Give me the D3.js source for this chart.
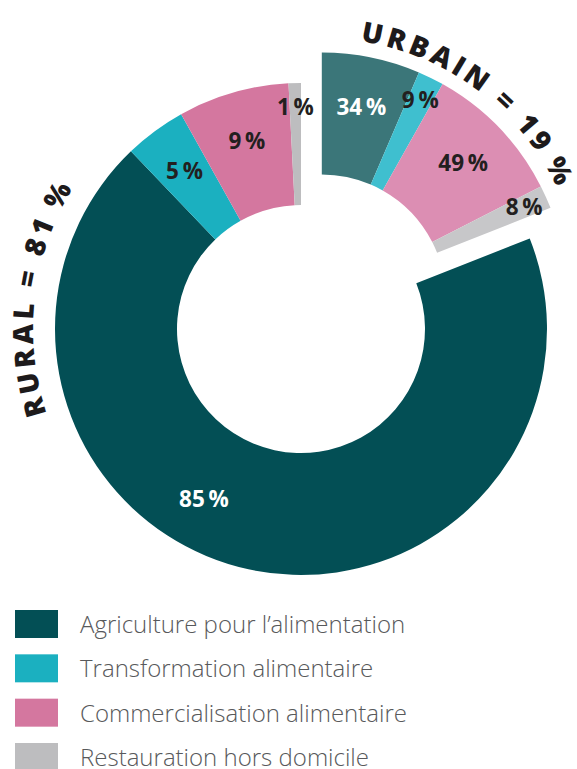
<!DOCTYPE html>
<html>
<head>
<meta charset="utf-8">
<script src="https://cdn.jsdelivr.net/npm/d3@7"></script>
<style>
  body { margin: 0; background: #fff; }
  svg { display: block; }
</style>
</head>
<body>
<svg id="chart" width="577" height="769"></svg>
<script>
// data
const categories = ['Agriculture pour l’alimentation', 'Transformation alimentaire', 'Commercialisation alimentaire', 'Restauration hors domicile'];
const groups = ['URBAIN', 'RURAL'];
const groupShares = [19, 81];
const urbanValues = [34, 9, 49, 8];
const ruralValues = [85, 5, 9, 1];

const ruralColors = ['#034f55', '#1bb0c0', '#d4779f', '#bdbdbf'];
const urbanColors = ['#3b7679', '#3fbfcf', '#dc8eb3', '#c7c7c9'];

const svg = d3.select('#chart');
const cx = 301, cy = 329;
const inner = 124, outer = 246;
const explode = 37;

const arc = d3.arc().innerRadius(inner).outerRadius(outer);
const groupPie = d3.pie().sort(null).value(d => d);
const groupArcs = groupPie(groupShares);

const root = svg.append('g').attr('transform', `translate(${cx},${cy})`);

groupArcs.forEach((g, gi) => {
  const values = gi === 0 ? urbanValues : ruralValues;
  const colors = gi === 0 ? urbanColors : ruralColors;
  const mid = (g.startAngle + g.endAngle) / 2;
  const off = gi === 0 ? explode : 0;
  const gx = Math.sin(mid) * off, gy = -Math.cos(mid) * off;

  const grp = root.append('g').attr('transform', `translate(${gx},${gy})`);

  const sub = d3.pie().sort(null).value(d => d)
    .startAngle(g.startAngle).endAngle(g.endAngle)(values);

  grp.selectAll('path')
    .data(sub)
    .join('path')
    .attr('d', arc)
    .attr('fill', (_, i) => colors[i]);

  // percent labels
  grp.selectAll('text.pct')
    .data(sub)
    .join('text')
    .attr('class', 'pct')
    .attr('transform', d => {
      const span = d.endAngle - d.startAngle;
      let a = (d.startAngle + d.endAngle) / 2;
      if (span > Math.PI) a = d.startAngle + span * 0.57;
      const r = span < 0.02 * 2 * Math.PI ? 222 : 196;
      return `translate(${Math.sin(a) * r},${-Math.cos(a) * r})`;
    })
    .attr('text-anchor', 'middle')
    .attr('dy', '0.36em')
    .attr('font-family', 'Open Sans, sans-serif')
    .attr('font-weight', 700)
    .attr('font-size', 22.5)
    .attr('fill', (_, i) => i === 0 ? '#ffffff' : '#231f20')
    .text(d => `${d.data}\u2009%`);

  // curved group title
  const tr = gi === 0 ? 260 : 268;
  const ca = gi === 0 ? 37 * Math.PI / 180 : 277 * Math.PI / 180;
  const half = 60 * Math.PI / 180;
  const p = d3.path();
  p.arc(0, 0, tr, ca - half - Math.PI / 2, ca + half - Math.PI / 2, false);
  const id = 'tp' + gi;
  grp.append('path').attr('id', id).attr('d', p.toString()).attr('fill', 'none');
  grp.append('text')
    .attr('font-family', 'Open Sans, sans-serif')
    .attr('font-weight', 800)
    .attr('font-size', 28)
    .attr('letter-spacing', '0.14em')
    .attr('fill', '#1d1a1b')
    .append('textPath')
    .attr('href', '#' + id)
    .attr('startOffset', '50%')
    .attr('text-anchor', 'middle')
    .text(`${groups[gi]} = ${groupShares[gi]}\u2009%`);
});

// legend
const ly = d3.scaleLinear().domain([0, 3]).range([610, 743]);
const legend = svg.append('g');
const rows = legend.selectAll('g')
  .data(categories)
  .join('g')
  .attr('transform', (_, i) => `translate(15,${ly(i)})`);
rows.append('rect')
  .attr('width', 43).attr('height', 28)
  .attr('fill', (_, i) => ruralColors[i]);
rows.append('text')
  .attr('x', 65).attr('y', 23)
  .attr('font-family', 'Open Sans, sans-serif')
  .attr('font-weight', 300)
  .attr('font-size', 24)
  .attr('fill', '#58595b')
  .text(d => d);
</script>
</body>
</html>
